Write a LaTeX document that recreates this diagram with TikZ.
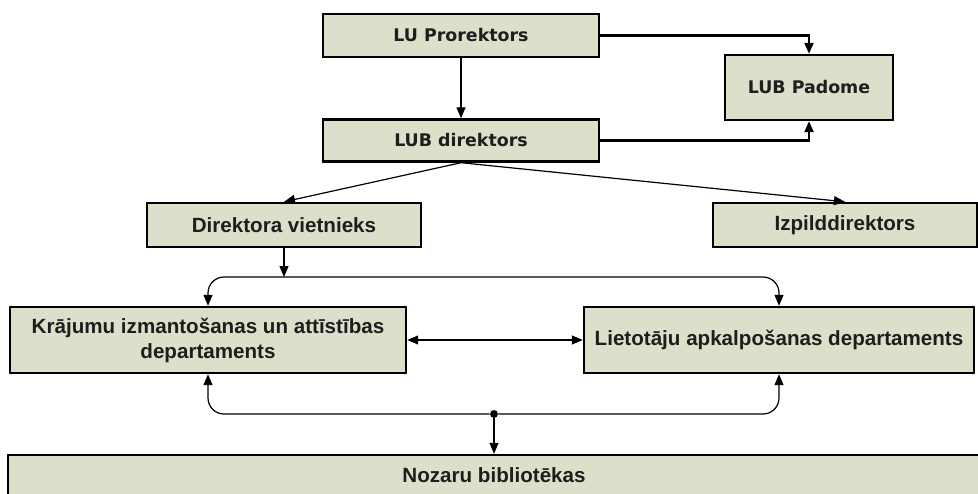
\documentclass[tikz,border=0pt]{standalone}
\usepackage{fontspec}
\setmainfont{Liberation Sans}
\newfontfamily\headfont{DejaVu Sans}
\usetikzlibrary{arrows.meta, positioning}
\definecolor{boxfill}{RGB}{220,223,202}
\definecolor{inkgray}{RGB}{30,30,30}
\tikzset{
    >={Triangle[length=5.5pt, width=4.5pt]},
    unit/.style={draw=black, fill=boxfill, line width=1.2pt, inner sep=0pt, text=inkgray, align=center, font=\bfseries\fontsize{10.3}{12.5}\selectfont},
    topunit/.style={unit, font=\headfont\bfseries\fontsize{8.7}{10}\selectfont},
    link/.style={->, line width=0.6pt},
    boldlink/.style={->, line width=1.1pt},
    hub/.style={fill, circle, inner sep=1.4pt}
}

\begin{document}
\begin{tikzpicture}[x=0.5pt, y=-0.5pt]
    \useasboundingbox (0,0) rectangle (978,493);
    % leadership
    \node[topunit, minimum width=138pt, minimum height=21.5pt] (prorektors) at (461,35.5) {LU Prorektors};
    \node[topunit, minimum width=138pt, minimum height=21pt] (direktors) at (461,140.5) {LUB direktors};
    \node[topunit, minimum width=84pt, minimum height=32.5pt] (padome) at (809,87.5) {LUB Padome};
    \node[unit, minimum width=137pt, minimum height=22pt] (vietnieks) at (284,225) {Direktora vietnieks};
    \node[unit, minimum width=132pt, minimum height=22pt] (izpild) at (845,225) {Izpilddirektors};
    % departments
    \node[unit, minimum width=198pt, minimum height=33pt] (krajumi) at (208,340) {Krājumu izmantošanas un attīstības\\departaments};
    \node[unit, minimum width=195pt, minimum height=33pt] (lietotaji) at (779,340) {Lietotāju apkalpošanas departaments};
    \node[unit, minimum width=486pt, minimum height=20pt] (nozares) at (494,475) {Nozaru bibliotēkas};

    \draw[link] (prorektors) -- (direktors);
    \draw[boldlink] (prorektors.east) -| (padome.north);
    \draw[boldlink] (direktors.east) -| (padome.south);
    \draw[link] (direktors.south) -- (vietnieks.north);
    \draw[link] (direktors.south) -- (izpild.north);

    \coordinate (split) at (284,277);
    \draw[link] (vietnieks) -- (split);
    \draw[link, rounded corners=8pt] (split) -| (krajumi.north);
    \draw[link, rounded corners=8pt] (split) -| (lietotaji.north);
    \draw[link, <->] (krajumi) -- (lietotaji);

    \node[hub] (junction) at (494,414) {};
    \draw[link, rounded corners=8pt] (junction) -| (krajumi.south);
    \draw[link, rounded corners=8pt] (junction) -| (lietotaji.south);
    \draw[link] (junction) -- (nozares);
\end{tikzpicture}
\end{document}
